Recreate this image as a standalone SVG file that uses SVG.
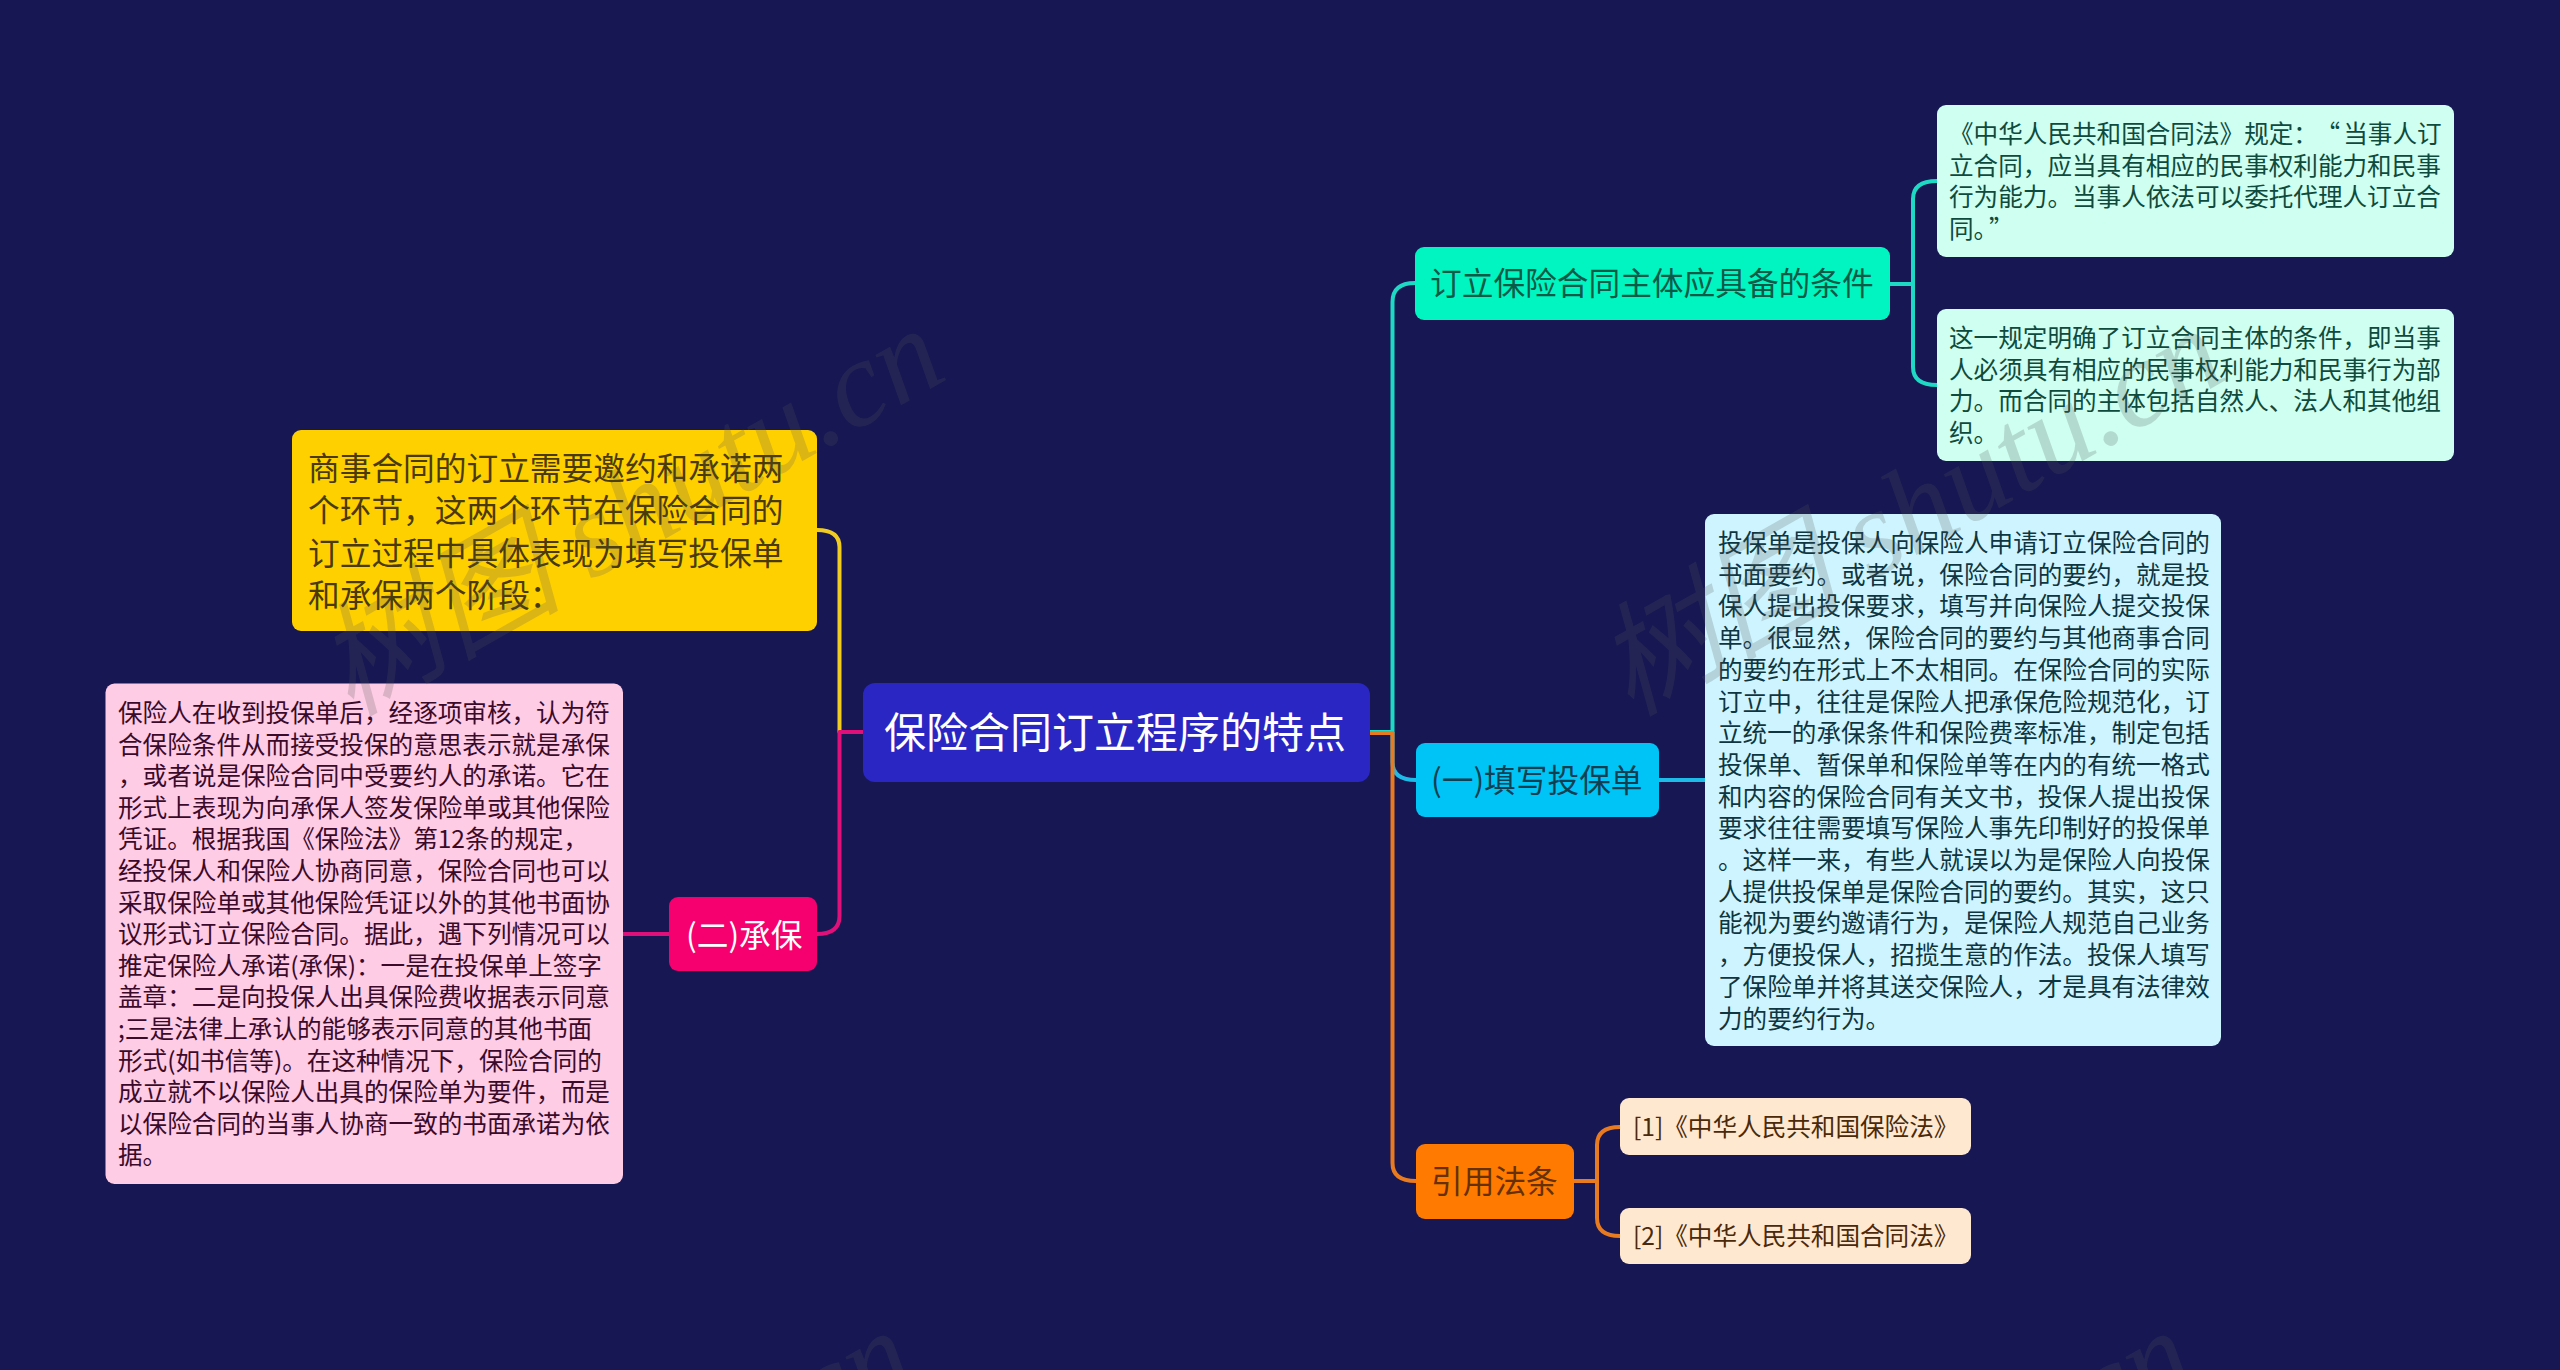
<svg xmlns="http://www.w3.org/2000/svg" width="2560" height="1370" viewBox="0 0 2560 1370">
<style>
text{font-family:"Noto Sans CJK SC","Noto Sans",sans-serif}
.c{fill:none;stroke-width:4;stroke-linejoin:round}
.s{font-size:24.6px}
.m{font-size:31.7px}
.wm{font-family:"Liberation Serif","Noto Sans CJK SC",serif;font-size:123px;font-style:italic;fill:#555;fill-opacity:.22}
</style>
<defs><text id="wmt" class="wm" transform="rotate(-29.5)">树图 shutu.cn</text></defs>
<rect width="2560" height="1370" fill="#171754"/>
<g id="connectors">
<path class="c" stroke="#1ed9c4" d="M1370 732H1392.500V302Q1392.500 283 1415 283"/>
<path class="c" stroke="#1ebbe8" d="M1392.500 732V762Q1392.500 780 1416 780"/>
<path class="c" stroke="#e87a20" d="M1370 733H1392.500V1163Q1392.500 1181 1416 1181"/>
<path class="c" stroke="#f0cc20" d="M863 732H839.500V547Q839.500 530 817 530"/>
<path class="c" stroke="#e0107a" d="M863 732H839.500V916Q839.500 934 817 934"/>
<path class="c" stroke="#e0107a" d="M669 934H623"/>
<path class="c" stroke="#1ed9c4" d="M1890 284H1913"/>
<path class="c" stroke="#1ed9c4" d="M1937 181Q1913 181 1913 199V367Q1913 385 1937 385"/>
<path class="c" stroke="#1ebbe8" d="M1659 780H1705"/>
<path class="c" stroke="#e87a20" d="M1574 1181H1597"/>
<path class="c" stroke="#e87a20" d="M1620 1127Q1597 1127 1597 1145V1218Q1597 1236 1620 1236"/>
</g>
<g id="root"><rect x="863" y="683" width="507" height="99" rx="12" fill="#2a26c4"/><text x="884" y="748" font-size="42" fill="#fff">保险合同订立程序的特点</text></g>
<g id="n-yellow"><rect x="292" y="430" width="525" height="201" rx="9" fill="#ffd000"/>
<g class="m" fill="#4a3a08"><text x="308" y="480">商事合同的订立需要邀约和承诺两</text><text x="308" y="522">个环节，这两个环节在保险合同的</text><text x="308" y="565">订立过程中具体表现为填写投保单</text><text x="308" y="607">和承保两个阶段：</text></g></g>
<g id="n-pink"><rect x="669" y="897" width="148" height="74" rx="9" fill="#f5006e"/><text class="m" x="686" y="947" fill="#fff">(二)承保</text></g>
<g id="n-pink-detail"><rect x="105.500" y="683.500" width="517.500" height="500.500" rx="9" fill="#ffcce5"/>
<g class="s" fill="#3a0a2a"><text x="118" y="722">保险人在收到投保单后，经逐项审核，认为符</text><text x="118" y="753.600">合保险条件从而接受投保的意思表示就是承保</text><text x="118" y="785.200">，或者说是保险合同中受要约人的承诺。它在</text><text x="118" y="816.800">形式上表现为向承保人签发保险单或其他保险</text><text x="118" y="848.400">凭证。根据我国《保险法》第12条的规定，</text><text x="118" y="880">经投保人和保险人协商同意，保险合同也可以</text><text x="118" y="911.600">采取保险单或其他保险凭证以外的其他书面协</text><text x="118" y="943.200">议形式订立保险合同。据此，遇下列情况可以</text><text x="118" y="974.800">推定保险人承诺(承保)：一是在投保单上签字</text><text x="118" y="1006.400">盖章：二是向投保人出具保险费收据表示同意</text><text x="118" y="1038">;三是法律上承认的能够表示同意的其他书面</text><text x="118" y="1069.600">形式(如书信等)。在这种情况下，保险合同的</text><text x="118" y="1101.200">成立就不以保险人出具的保险单为要件，而是</text><text x="118" y="1132.800">以保险合同的当事人协商一致的书面承诺为依</text><text x="118" y="1164.400">据。</text></g></g>
<g id="n-teal"><rect x="1415" y="247" width="475" height="73" rx="9" fill="#00f5c0"/><text class="m" x="1430" y="295" fill="#0b5a48">订立保险合同主体应具备的条件</text></g>
<g id="n-teal-1"><rect x="1937" y="105" width="517" height="152" rx="9" fill="#cefff0"/>
<g class="s" fill="#0f4a3c"><text x="1949" y="143">《中华人民共和国合同法》规定：<tspan dx="10">“</tspan><tspan dx="3">当事人订</tspan></text><text x="1949" y="174.500">立合同，应当具有相应的民事权利能力和民事</text><text x="1949" y="206">行为能力。当事人依法可以委托代理人订立合</text><text x="1949" y="237.500">同。<tspan dx="3">”</tspan></text></g></g>
<g id="n-teal-2"><rect x="1937" y="309" width="517" height="152" rx="9" fill="#cefff0"/>
<g class="s" fill="#0f4a3c"><text x="1949" y="347">这一规定明确了订立合同主体的条件，即当事</text><text x="1949" y="378.500">人必须具有相应的民事权利能力和民事行为部</text><text x="1949" y="410">力。而合同的主体包括自然人、法人和其他组</text><text x="1949" y="441.500">织。</text></g></g>
<g id="n-cyan"><rect x="1416" y="743" width="243" height="74" rx="9" fill="#00c4f5"/><text class="m" x="1431" y="792" fill="#0f3f50">(一)填写投保单</text></g>
<g id="n-cyan-detail"><rect x="1705" y="514" width="516" height="532" rx="9" fill="#cef5ff"/>
<g class="s" fill="#0f3540"><text x="1718" y="552">投保单是投保人向保险人申请订立保险合同的</text><text x="1718" y="583.700">书面要约。或者说，保险合同的要约，就是投</text><text x="1718" y="615.400">保人提出投保要求，填写并向保险人提交投保</text><text x="1718" y="647.100">单。很显然，保险合同的要约与其他商事合同</text><text x="1718" y="678.800">的要约在形式上不太相同。在保险合同的实际</text><text x="1718" y="710.500">订立中，往往是保险人把承保危险规范化，订</text><text x="1718" y="742.200">立统一的承保条件和保险费率标准，制定包括</text><text x="1718" y="773.900">投保单、暂保单和保险单等在内的有统一格式</text><text x="1718" y="805.600">和内容的保险合同有关文书，投保人提出投保</text><text x="1718" y="837.300">要求往往需要填写保险人事先印制好的投保单</text><text x="1718" y="869">。这样一来，有些人就误以为是保险人向投保</text><text x="1718" y="900.700">人提供投保单是保险合同的要约。其实，这只</text><text x="1718" y="932.400">能视为要约邀请行为，是保险人规范自己业务</text><text x="1718" y="964.100">，方便投保人，招揽生意的作法。投保人填写</text><text x="1718" y="995.800">了保险单并将其送交保险人，才是具有法律效</text><text x="1718" y="1027.500">力的要约行为。</text></g></g>
<g id="n-orange"><rect x="1416" y="1144" width="158" height="75" rx="9" fill="#ff7a00"/><text class="m" x="1431" y="1193" fill="#663000">引用法条</text></g>
<g id="n-ref-1"><rect x="1620" y="1098" width="351" height="57" rx="9" fill="#ffe8d0"/><text class="s" x="1633" y="1136" fill="#4a2a0a">[1]《中华人民共和国保险法》</text></g>
<g id="n-ref-2"><rect x="1620" y="1208" width="351" height="56" rx="9" fill="#ffe8d0"/><text class="s" x="1633" y="1245" fill="#4a2a0a">[2]《中华人民共和国合同法》</text></g>
<g id="watermarks">
<use href="#wmt" transform="translate(350 717)"/>
<use href="#wmt" transform="translate(1630 717)"/>
<use href="#wmt" transform="translate(320 1719)"/>
<use href="#wmt" transform="translate(1600 1719)"/>
</g>
</svg>
